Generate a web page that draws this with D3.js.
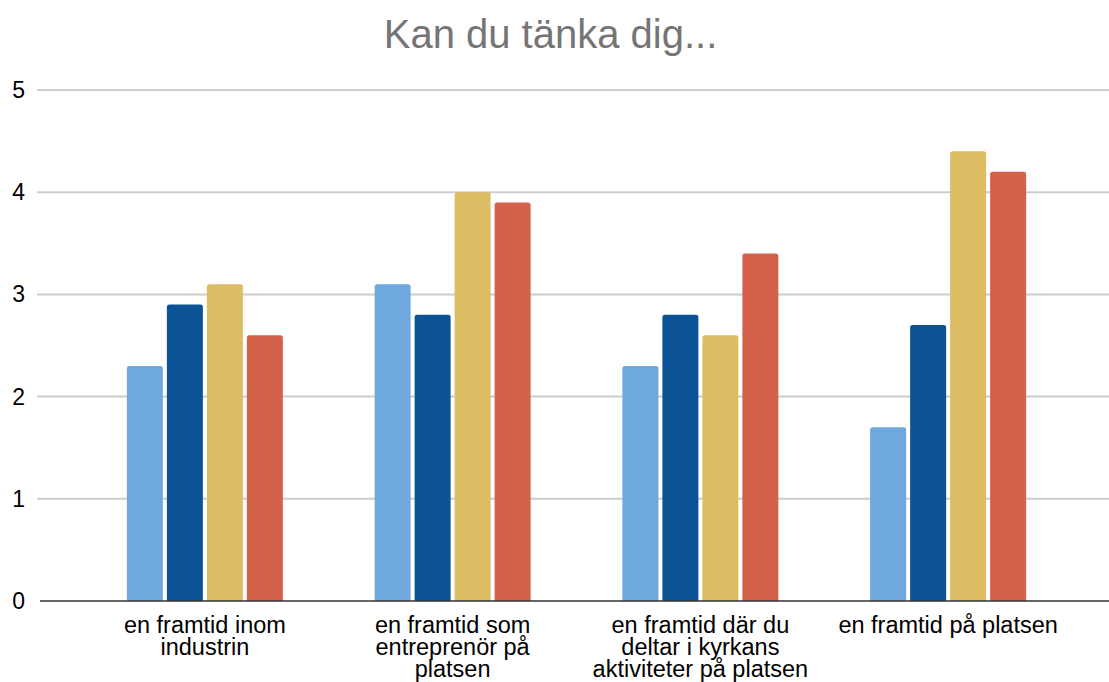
<!DOCTYPE html>
<html>
<head>
<meta charset="utf-8">
<script src="https://cdn.jsdelivr.net/npm/d3@7"></script>
<style>
html,body{margin:0;padding:0;background:#fff;}
svg{display:block;font-family:"Liberation Sans",Arial,sans-serif;}
</style>
</head>
<body>
<svg id="chart" width="1109" height="682"></svg>
<script>
const title = "Kan du tänka dig...";
const categories = ["industrin", "entreprenor", "kyrkan", "platsen"];
const categoryLabels = [
  ["en framtid inom", "industrin"],
  ["en framtid som", "entreprenör på", "platsen"],
  ["en framtid där du", "deltar i kyrkans", "aktiviteter på platsen"],
  ["en framtid på platsen"]
];
const seriesNames = ["s1", "s2", "s3", "s4"];
const seriesColors = ["#6fa8dc", "#0b5394", "#dcbd63", "#d4614a"];
const series1 = [2.3, 3.1, 2.3, 1.7];
const series2 = [2.9, 2.8, 2.8, 2.7];
const series3 = [3.1, 4.0, 2.6, 4.4];
const series4 = [2.6, 3.9, 3.4, 4.2];
const yTicks = [0, 1, 2, 3, 4, 5];

const allSeries = [series1, series2, series3, series4];
const svg = d3.select("#chart");

const x = d3.scaleBand().domain(categories).range([81, 1072]).paddingInner(0).paddingOuter(0);
const groupW = 156;
const xs = d3.scaleBand().domain(seriesNames).range([0, groupW]).paddingInner(0.1);
const y = d3.scaleLinear().domain([0, 5]).range([601, 90]);

// gridlines
svg.append("g").selectAll("line").data(yTicks.filter(d => d !== 0)).join("line")
  .attr("x1", 37).attr("x2", 1109)
  .attr("y1", d => y(d)).attr("y2", d => y(d))
  .attr("stroke", "#cccccc").attr("stroke-width", 2);

// y tick labels
svg.append("g").selectAll("text").data(yTicks).join("text")
  .attr("x", 25).attr("y", d => y(d))
  .attr("dy", "0.35em")
  .attr("text-anchor", "end")
  .attr("font-size", 23)
  .attr("fill", "#000")
  .text(d => d);

// bars
function barPath(x0, w, yTop, yBot, r) {
  r = Math.min(r, (yBot - yTop) / 2, w / 2);
  return `M${x0},${yBot}V${yTop + r}Q${x0},${yTop} ${x0 + r},${yTop}H${x0 + w - r}Q${x0 + w},${yTop} ${x0 + w},${yTop + r}V${yBot}Z`;
}
const groups = svg.append("g").selectAll("g").data(categories).join("g")
  .attr("transform", d => `translate(${x(d) + x.bandwidth() / 2 - groupW / 2},0)`);
groups.selectAll("path").data((c, i) => seriesNames.map((s, j) => ({ s, j, v: allSeries[j][i] }))).join("path")
  .attr("d", d => barPath(xs(d.s), xs.bandwidth(), y(d.v), y(0), 2.5))
  .attr("fill", d => seriesColors[d.j]);

// baseline
svg.append("line").attr("x1", 40).attr("x2", 1109).attr("y1", y(0)).attr("y2", y(0))
  .attr("stroke", "#333").attr("stroke-width", 1.5);

// category labels
const lab = svg.append("g").selectAll("text").data(categories).join("text")
  .attr("text-anchor", "middle")
  .attr("font-size", 23.5)
  .attr("fill", "#000")
  .attr("x", d => x(d) + x.bandwidth() / 2)
  .attr("y", 633);
lab.each(function (d, i) {
  const t = d3.select(this);
  categoryLabels[i].forEach((line, k) => {
    t.append("tspan").attr("x", x(d) + x.bandwidth() / 2).attr("y", 633 + k * 22).text(line);
  });
});

// title
svg.append("text").attr("x", 550.5).attr("y", 48).attr("text-anchor", "middle")
  .attr("font-size", 40).attr("fill", "#757575").text(title);
</script>
</body>
</html>
